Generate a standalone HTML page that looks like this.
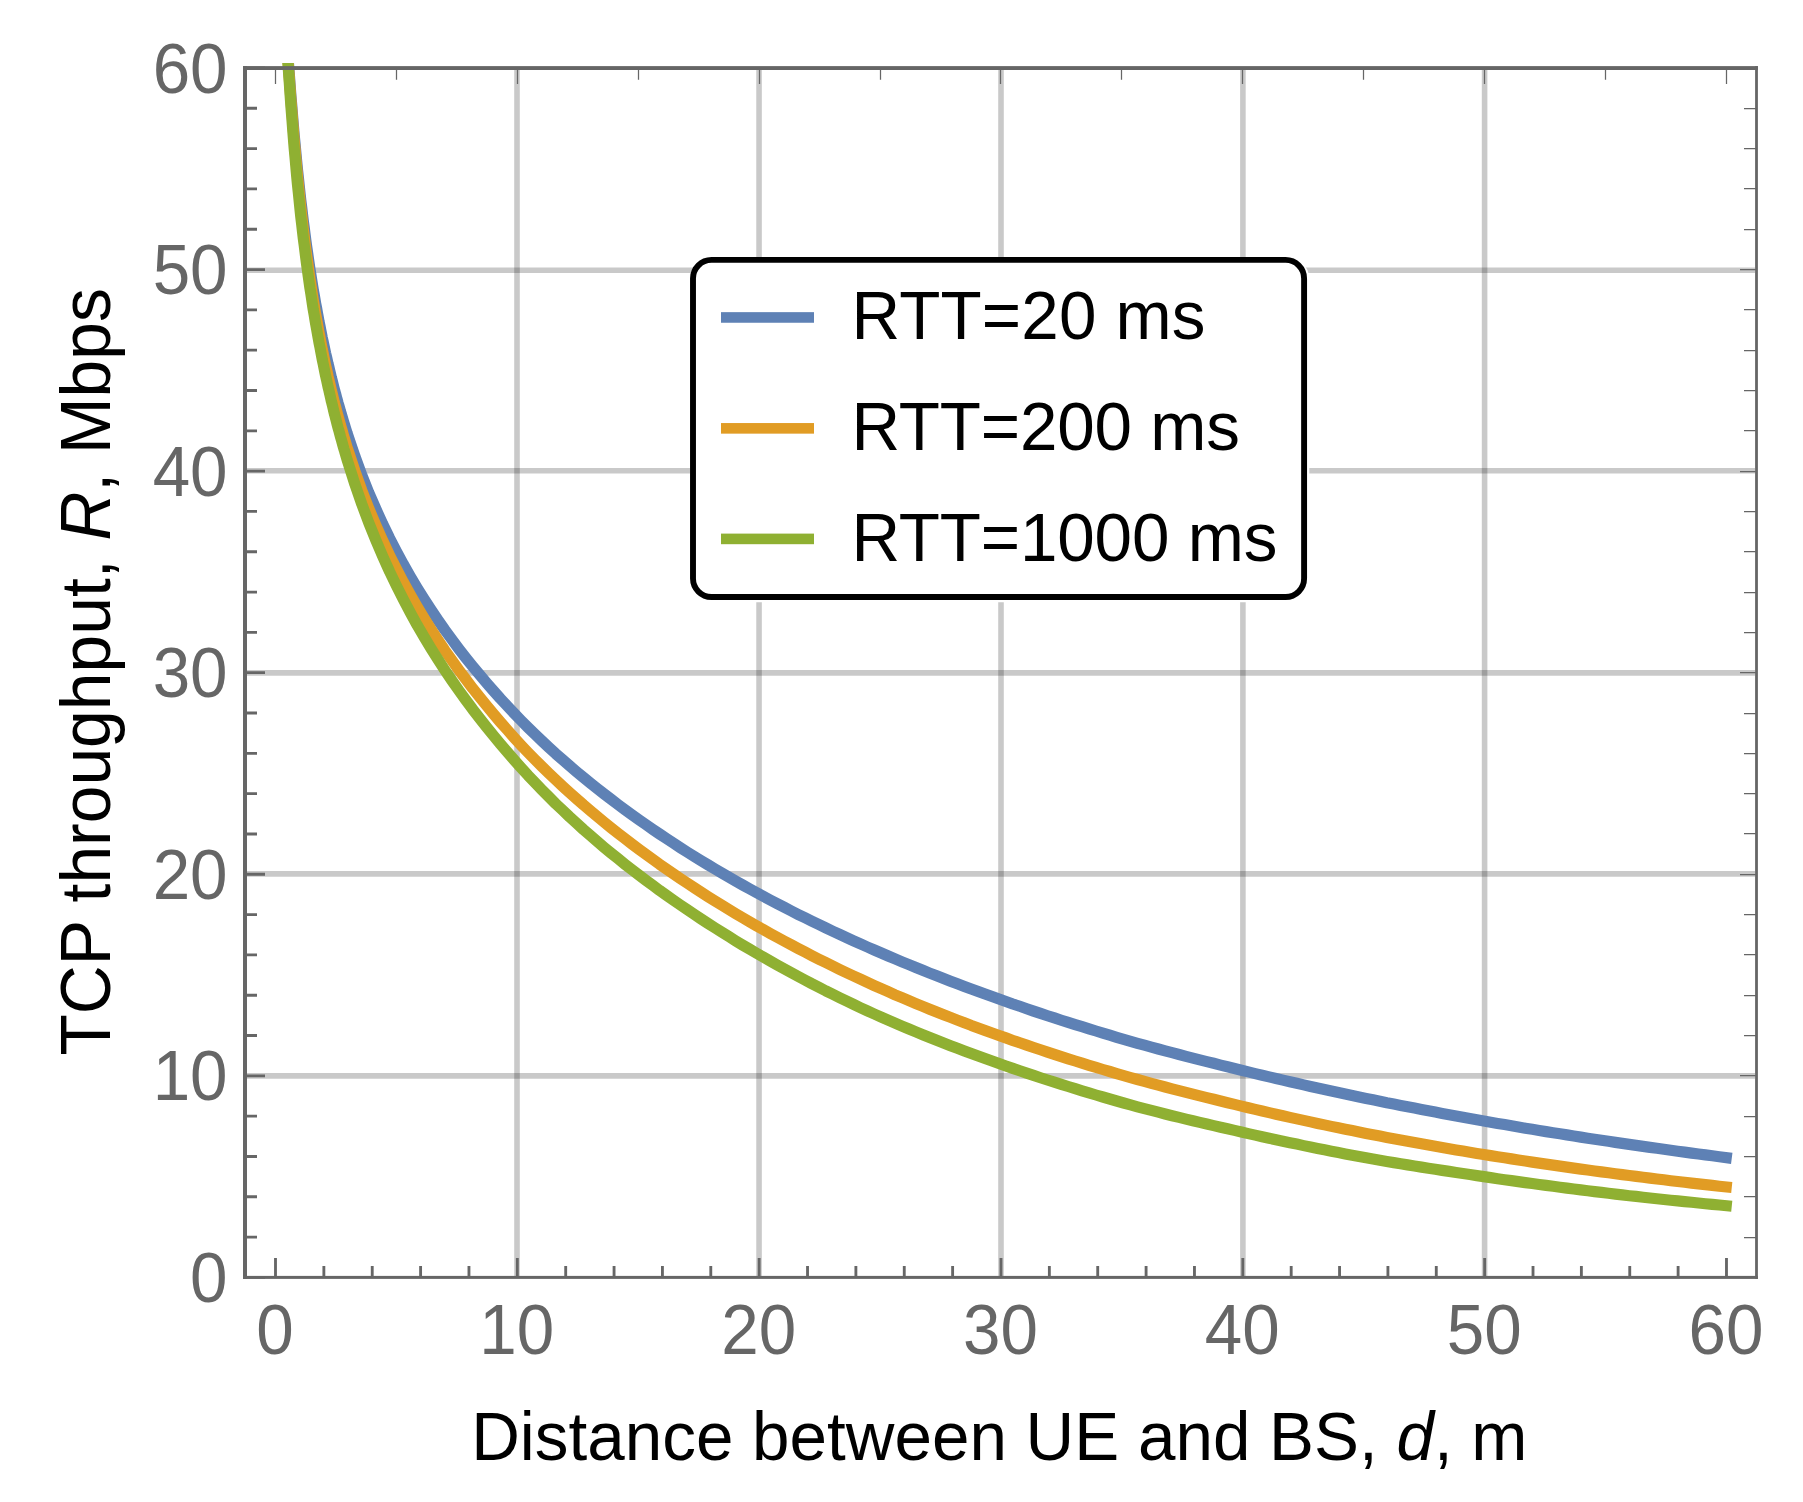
<!DOCTYPE html>
<html lang="en"><head><meta charset="utf-8"><title>TCP throughput vs distance</title>
<style>
html,body{margin:0;padding:0;background:#fff;}
body{width:1803px;height:1502px;overflow:hidden;}
svg{display:block;}
text{font-family:"Liberation Sans",Arial,Helvetica,sans-serif;font-size:67.4px;}
.tl{fill:#666666;}
.al{fill:#000;}
.lg{fill:#000;}
.it{font-style:italic;}
</style></head><body>
<svg width="1803" height="1502" viewBox="0 0 1803 1502">
<rect x="0" y="0" width="1803" height="1502" fill="#ffffff"/>
<defs><clipPath id="pc"><rect x="243.0" y="63" width="1514.9" height="1215.9"/></clipPath></defs>
<g stroke="#000" stroke-opacity="0.21" stroke-width="5.6" fill="none">
<line x1="517.0" y1="70.0" x2="517.0" y2="1275.9"/>
<line x1="759.05" y1="70.0" x2="759.05" y2="1275.9"/>
<line x1="1001.0" y1="70.0" x2="1001.0" y2="1275.9"/>
<line x1="1242.9" y1="70.0" x2="1242.9" y2="1275.9"/>
<line x1="1484.6" y1="70.0" x2="1484.6" y2="1275.9"/>
<line x1="247.0" y1="270.2" x2="1755.1" y2="270.2"/>
<line x1="247.0" y1="470.8" x2="1755.1" y2="470.8"/>
<line x1="247.0" y1="672.9" x2="1755.1" y2="672.9"/>
<line x1="247.0" y1="873.85" x2="1755.1" y2="873.85"/>
<line x1="247.0" y1="1075.9" x2="1755.1" y2="1075.9"/>
</g>
<g fill="none" stroke-width="11.2" stroke-linejoin="round" stroke-linecap="square" clip-path="url(#pc)">
<polyline stroke="#5E81B5" points="282.7,-15.4 283.5,-6.3 284.3,4.4 285.1,15.8 286.0,27.6 286.8,39.4 287.6,51.2 288.4,62.8 289.3,74.0 290.1,85.0 290.9,95.7 291.8,106.1 292.6,116.1 293.4,125.8 294.2,135.2 295.1,144.2 295.9,153.0 296.7,161.6 297.5,169.8 298.4,177.8 299.2,185.6 300.0,193.1 300.8,200.4 301.7,207.5 302.5,214.4 303.3,221.0 304.2,227.6 305.0,233.9 305.8,240.1 306.6,246.1 307.5,252.0 308.3,257.7 309.1,263.3 309.9,268.7 310.8,274.1 311.6,279.3 312.4,284.4 313.2,289.3 314.1,294.2 314.9,299.0 315.7,303.6 316.6,308.2 317.4,312.7 318.2,317.1 319.0,321.4 319.9,325.6 320.7,329.8 321.5,333.9 322.3,337.9 323.2,341.8 324.0,345.7 324.8,349.5 325.6,353.2 326.5,356.9 327.3,360.5 328.1,364.0 329.0,367.5 329.8,371.0 330.6,374.4 331.4,377.7 332.3,381.0 333.1,384.3 333.9,387.5 334.7,390.6 335.6,393.7 336.4,396.8 337.2,399.8 338.0,402.8 338.9,405.7 339.7,408.6 340.5,411.5 341.4,414.3 342.2,417.1 343.0,419.9 343.8,422.6 344.7,425.3 345.5,428.0 346.3,430.6 347.1,433.2 348.0,435.8 354.9,456.3 361.8,475.1 368.7,492.5 375.7,508.6 382.6,523.8 389.5,538.0 396.5,551.5 403.4,564.3 410.3,576.4 417.2,588.0 424.2,599.2 431.1,609.8 438.0,620.1 444.9,630.0 451.9,639.5 458.8,648.8 465.7,657.7 472.6,666.3 479.6,674.7 486.5,682.8 493.4,690.7 500.3,698.5 507.3,706.0 514.2,713.3 521.1,720.5 528.0,727.5 535.0,734.3 541.9,740.9 548.8,747.4 555.7,753.7 562.7,759.8 569.6,765.8 576.5,771.7 583.4,777.4 590.4,783.1 597.3,788.6 604.2,794.0 611.1,799.3 618.1,804.6 625.0,809.7 631.9,814.7 638.9,819.7 645.8,824.5 652.7,829.3 659.6,834.0 666.6,838.6 673.5,843.2 680.4,847.7 687.3,852.1 694.3,856.4 701.2,860.7 708.1,864.9 715.0,869.0 722.0,873.1 728.9,877.1 735.8,881.1 742.7,885.0 749.7,888.8 756.6,892.6 763.5,896.4 770.4,900.1 777.4,903.7 784.3,907.3 791.2,910.9 798.1,914.4 805.1,917.8 812.0,921.2 818.9,924.6 825.8,927.9 832.8,931.2 839.7,934.4 846.6,937.6 853.6,940.8 860.5,943.9 867.4,947.0 874.3,950.0 881.3,953.0 888.2,956.0 895.1,958.9 902.0,961.8 909.0,964.7 915.9,967.5 922.8,970.3 929.7,973.1 936.7,975.8 943.6,978.5 950.5,981.2 957.4,983.8 964.4,986.5 971.3,989.0 978.2,991.6 985.1,994.1 992.1,996.6 999.0,999.1 1005.9,1001.5 1012.8,1004.0 1019.8,1006.3 1026.7,1008.7 1033.6,1011.1 1040.5,1013.4 1047.5,1015.7 1054.4,1017.9 1061.3,1020.2 1068.2,1022.4 1075.2,1024.6 1082.1,1026.7 1089.0,1028.9 1096.0,1031.0 1102.9,1033.1 1109.8,1035.2 1116.7,1037.3 1123.7,1039.3 1130.6,1041.3 1137.5,1043.3 1144.4,1045.2 1151.4,1047.1 1158.3,1049.0 1165.2,1050.9 1172.1,1052.7 1179.1,1054.5 1186.0,1056.3 1192.9,1058.1 1199.8,1059.9 1206.8,1061.6 1213.7,1063.3 1220.6,1065.1 1227.5,1066.8 1234.5,1068.5 1241.4,1070.2 1248.3,1071.9 1255.2,1073.6 1262.2,1075.2 1269.1,1076.9 1276.0,1078.5 1282.9,1080.1 1289.9,1081.7 1296.8,1083.3 1303.7,1084.9 1310.6,1086.5 1317.6,1088.0 1324.5,1089.5 1331.4,1091.0 1338.4,1092.5 1345.3,1094.0 1352.2,1095.5 1359.1,1097.0 1366.1,1098.4 1373.0,1099.8 1379.9,1101.2 1386.8,1102.7 1393.8,1104.0 1400.7,1105.4 1407.6,1106.8 1414.5,1108.1 1421.5,1109.5 1428.4,1110.8 1435.3,1112.1 1442.2,1113.4 1449.2,1114.7 1456.1,1116.0 1463.0,1117.3 1469.9,1118.5 1476.9,1119.8 1483.8,1121.0 1490.7,1122.2 1497.6,1123.4 1504.6,1124.6 1511.5,1125.8 1518.4,1127.0 1525.3,1128.2 1532.3,1129.3 1539.2,1130.5 1546.1,1131.6 1553.1,1132.7 1560.0,1133.8 1566.9,1134.9 1573.8,1136.0 1580.8,1137.1 1587.7,1138.2 1594.6,1139.2 1601.5,1140.3 1608.5,1141.3 1615.4,1142.4 1622.3,1143.4 1629.2,1144.4 1636.2,1145.4 1643.1,1146.4 1650.0,1147.4 1656.9,1148.3 1663.9,1149.3 1670.8,1150.3 1677.7,1151.2 1684.6,1152.1 1691.6,1153.1 1698.5,1154.0 1705.4,1154.9 1712.3,1155.8 1719.3,1156.7 1726.2,1157.6"/>
<polyline stroke="#E19C24" points="282.7,-9.0 283.5,-1.3 284.3,8.4 285.1,19.4 286.0,30.9 286.8,42.7 287.6,54.5 288.4,66.2 289.3,77.7 290.1,88.9 290.9,99.8 291.8,110.5 292.6,120.8 293.4,130.8 294.2,140.5 295.1,149.8 295.9,158.9 296.7,167.7 297.5,176.2 298.4,184.5 299.2,192.5 300.0,200.3 300.8,207.8 301.7,215.2 302.5,222.3 303.3,229.2 304.2,235.9 305.0,242.5 305.8,248.9 306.6,255.1 307.5,261.1 308.3,267.0 309.1,272.8 309.9,278.4 310.8,283.9 311.6,289.3 312.4,294.5 313.2,299.6 314.1,304.7 314.9,309.6 315.7,314.4 316.6,319.1 317.4,323.7 318.2,328.2 319.0,332.7 319.9,337.0 320.7,341.3 321.5,345.5 322.3,349.6 323.2,353.6 324.0,357.6 324.8,361.5 325.6,365.3 326.5,369.1 327.3,372.8 328.1,376.5 329.0,380.1 329.8,383.6 330.6,387.1 331.4,390.5 332.3,393.9 333.1,397.2 333.9,400.5 334.7,403.7 335.6,406.9 336.4,410.1 337.2,413.2 338.0,416.2 338.9,419.2 339.7,422.2 340.5,425.2 341.4,428.1 342.2,430.9 343.0,433.8 343.8,436.6 344.7,439.3 345.5,442.1 346.3,444.8 347.1,447.5 348.0,450.1 354.9,471.1 361.8,490.4 368.7,508.3 375.7,524.9 382.6,540.5 389.5,555.2 396.5,569.1 403.4,582.3 410.3,594.8 417.2,606.8 424.2,618.4 431.1,629.4 438.0,640.1 444.9,650.4 451.9,660.3 458.8,669.9 465.7,679.2 472.6,688.3 479.6,697.0 486.5,705.5 493.4,713.9 500.3,722.0 507.3,729.9 514.2,737.7 521.1,745.2 528.0,752.5 535.0,759.6 541.9,766.5 548.8,773.2 555.7,779.8 562.7,786.3 569.6,792.6 576.5,798.7 583.4,804.8 590.4,810.7 597.3,816.5 604.2,822.2 611.1,827.8 618.1,833.3 625.0,838.7 631.9,844.0 638.9,849.2 645.8,854.3 652.7,859.3 659.6,864.3 666.6,869.1 673.5,873.9 680.4,878.6 687.3,883.2 694.3,887.8 701.2,892.3 708.1,896.7 715.0,901.0 722.0,905.3 728.9,909.5 735.8,913.7 742.7,917.8 749.7,921.8 756.6,925.8 763.5,929.7 770.4,933.6 777.4,937.4 784.3,941.1 791.2,944.8 798.1,948.5 805.1,952.1 812.0,955.7 818.9,959.2 825.8,962.6 832.8,966.0 839.7,969.4 846.6,972.7 853.6,976.0 860.5,979.2 867.4,982.4 874.3,985.6 881.3,988.7 888.2,991.7 895.1,994.8 902.0,997.7 909.0,1000.7 915.9,1003.6 922.8,1006.4 929.7,1009.2 936.7,1012.0 943.6,1014.7 950.5,1017.4 957.4,1020.1 964.4,1022.7 971.3,1025.4 978.2,1027.9 985.1,1030.5 992.1,1033.0 999.0,1035.5 1005.9,1037.9 1012.8,1040.4 1019.8,1042.8 1026.7,1045.1 1033.6,1047.5 1040.5,1049.8 1047.5,1052.1 1054.4,1054.4 1061.3,1056.6 1068.2,1058.8 1075.2,1061.0 1082.1,1063.2 1089.0,1065.3 1096.0,1067.4 1102.9,1069.5 1109.8,1071.5 1116.7,1073.6 1123.7,1075.6 1130.6,1077.6 1137.5,1079.5 1144.4,1081.4 1151.4,1083.3 1158.3,1085.2 1165.2,1087.0 1172.1,1088.8 1179.1,1090.6 1186.0,1092.4 1192.9,1094.2 1199.8,1095.9 1206.8,1097.6 1213.7,1099.3 1220.6,1101.0 1227.5,1102.7 1234.5,1104.4 1241.4,1106.1 1248.3,1107.8 1255.2,1109.4 1262.2,1111.0 1269.1,1112.6 1276.0,1114.2 1282.9,1115.8 1289.9,1117.4 1296.8,1118.9 1303.7,1120.4 1310.6,1121.9 1317.6,1123.4 1324.5,1124.9 1331.4,1126.4 1338.4,1127.8 1345.3,1129.2 1352.2,1130.6 1359.1,1132.0 1366.1,1133.4 1373.0,1134.7 1379.9,1136.1 1386.8,1137.4 1393.8,1138.7 1400.7,1140.0 1407.6,1141.3 1414.5,1142.6 1421.5,1143.8 1428.4,1145.1 1435.3,1146.3 1442.2,1147.5 1449.2,1148.7 1456.1,1149.9 1463.0,1151.1 1469.9,1152.2 1476.9,1153.4 1483.8,1154.5 1490.7,1155.6 1497.6,1156.7 1504.6,1157.8 1511.5,1158.9 1518.4,1160.0 1525.3,1161.0 1532.3,1162.1 1539.2,1163.1 1546.1,1164.1 1553.1,1165.1 1560.0,1166.1 1566.9,1167.1 1573.8,1168.1 1580.8,1169.1 1587.7,1170.0 1594.6,1171.0 1601.5,1171.9 1608.5,1172.8 1615.4,1173.7 1622.3,1174.6 1629.2,1175.5 1636.2,1176.4 1643.1,1177.3 1650.0,1178.1 1656.9,1179.0 1663.9,1179.8 1670.8,1180.7 1677.7,1181.5 1684.6,1182.3 1691.6,1183.1 1698.5,1183.9 1705.4,1184.6 1712.3,1185.4 1719.3,1186.2 1726.2,1186.9"/>
<polyline stroke="#8FB032" points="282.7,-24.9 283.5,-11.6 284.3,2.3 285.1,16.3 286.0,30.3 286.8,44.0 287.6,57.3 288.4,70.2 289.3,82.6 290.1,94.6 290.9,106.2 291.8,117.3 292.6,128.0 293.4,138.4 294.2,148.3 295.1,157.9 295.9,167.2 296.7,176.2 297.5,184.8 298.4,193.2 299.2,201.3 300.0,209.2 300.8,216.8 301.7,224.2 302.5,231.3 303.3,238.3 304.2,245.1 305.0,251.7 305.8,258.1 306.6,264.4 307.5,270.5 308.3,276.4 309.1,282.2 309.9,287.9 310.8,293.4 311.6,298.8 312.4,304.1 313.2,309.3 314.1,314.3 314.9,319.3 315.7,324.1 316.6,328.9 317.4,333.6 318.2,338.1 319.0,342.6 319.9,347.0 320.7,351.3 321.5,355.6 322.3,359.8 323.2,363.9 324.0,367.9 324.8,371.9 325.6,375.8 326.5,379.6 327.3,383.4 328.1,387.1 329.0,390.7 329.8,394.3 330.6,397.9 331.4,401.4 332.3,404.8 333.1,408.2 333.9,411.6 334.7,414.9 335.6,418.2 336.4,421.4 337.2,424.6 338.0,427.7 338.9,430.8 339.7,433.8 340.5,436.9 341.4,439.8 342.2,442.8 343.0,445.7 343.8,448.6 344.7,451.4 345.5,454.2 346.3,457.0 347.1,459.8 348.0,462.5 354.9,484.2 361.8,504.1 368.7,522.6 375.7,539.9 382.6,556.1 389.5,571.4 396.5,585.9 403.4,599.6 410.3,612.7 417.2,625.2 424.2,637.1 431.1,648.6 438.0,659.6 444.9,670.2 451.9,680.5 458.8,690.4 465.7,699.9 472.6,709.2 479.6,718.2 486.5,727.0 493.4,735.6 500.3,743.9 507.3,752.0 514.2,760.0 521.1,767.7 528.0,775.3 535.0,782.6 541.9,789.8 548.8,796.8 555.7,803.7 562.7,810.3 569.6,816.9 576.5,823.2 583.4,829.5 590.4,835.5 597.3,841.5 604.2,847.4 611.1,853.1 618.1,858.7 625.0,864.3 631.9,869.7 638.9,875.0 645.8,880.2 652.7,885.3 659.6,890.4 666.6,895.3 673.5,900.2 680.4,905.0 687.3,909.7 694.3,914.4 701.2,919.0 708.1,923.5 715.0,927.9 722.0,932.3 728.9,936.6 735.8,940.9 742.7,945.1 749.7,949.2 756.6,953.3 763.5,957.2 770.4,961.2 777.4,965.1 784.3,968.9 791.2,972.7 798.1,976.4 805.1,980.1 812.0,983.8 818.9,987.3 825.8,990.9 832.8,994.3 839.7,997.7 846.6,1001.1 853.6,1004.4 860.5,1007.7 867.4,1010.9 874.3,1014.0 881.3,1017.1 888.2,1020.1 895.1,1023.1 902.0,1026.1 909.0,1029.0 915.9,1031.9 922.8,1034.7 929.7,1037.5 936.7,1040.3 943.6,1043.0 950.5,1045.7 957.4,1048.3 964.4,1051.0 971.3,1053.6 978.2,1056.1 985.1,1058.6 992.1,1061.1 999.0,1063.6 1005.9,1066.0 1012.8,1068.4 1019.8,1070.8 1026.7,1073.1 1033.6,1075.4 1040.5,1077.7 1047.5,1080.0 1054.4,1082.2 1061.3,1084.4 1068.2,1086.5 1075.2,1088.7 1082.1,1090.8 1089.0,1092.9 1096.0,1095.0 1102.9,1097.0 1109.8,1099.0 1116.7,1101.0 1123.7,1103.0 1130.6,1104.9 1137.5,1106.8 1144.4,1108.6 1151.4,1110.4 1158.3,1112.2 1165.2,1114.0 1172.1,1115.7 1179.1,1117.4 1186.0,1119.1 1192.9,1120.7 1199.8,1122.4 1206.8,1124.0 1213.7,1125.6 1220.6,1127.2 1227.5,1128.8 1234.5,1130.4 1241.4,1132.0 1248.3,1133.6 1255.2,1135.1 1262.2,1136.7 1269.1,1138.2 1276.0,1139.7 1282.9,1141.2 1289.9,1142.7 1296.8,1144.1 1303.7,1145.6 1310.6,1147.0 1317.6,1148.4 1324.5,1149.8 1331.4,1151.2 1338.4,1152.5 1345.3,1153.9 1352.2,1155.2 1359.1,1156.5 1366.1,1157.8 1373.0,1159.0 1379.9,1160.3 1386.8,1161.5 1393.8,1162.6 1400.7,1163.8 1407.6,1164.9 1414.5,1166.0 1421.5,1167.1 1428.4,1168.2 1435.3,1169.3 1442.2,1170.4 1449.2,1171.4 1456.1,1172.5 1463.0,1173.5 1469.9,1174.5 1476.9,1175.6 1483.8,1176.6 1490.7,1177.6 1497.6,1178.7 1504.6,1179.7 1511.5,1180.6 1518.4,1181.6 1525.3,1182.6 1532.3,1183.5 1539.2,1184.5 1546.1,1185.4 1553.1,1186.3 1560.0,1187.2 1566.9,1188.1 1573.8,1189.0 1580.8,1189.9 1587.7,1190.7 1594.6,1191.6 1601.5,1192.4 1608.5,1193.3 1615.4,1194.1 1622.3,1194.9 1629.2,1195.7 1636.2,1196.4 1643.1,1197.2 1650.0,1198.0 1656.9,1198.7 1663.9,1199.5 1670.8,1200.2 1677.7,1200.9 1684.6,1201.6 1691.6,1202.3 1698.5,1203.0 1705.4,1203.7 1712.3,1204.4 1719.3,1205.0 1726.2,1205.7"/>
</g>
<g stroke="#666666" fill="none">
<path stroke-width="2.85" d="M275.50 1277.4V1258.0M323.87 1277.4V1266.0M372.23 1277.4V1266.0M420.60 1277.4V1266.0M468.96 1277.4V1266.0M517.33 1277.4V1258.0M565.70 1277.4V1266.0M614.06 1277.4V1266.0M662.43 1277.4V1266.0M710.79 1277.4V1266.0M759.16 1277.4V1258.0M807.53 1277.4V1266.0M855.89 1277.4V1266.0M904.26 1277.4V1266.0M952.62 1277.4V1266.0M1000.99 1277.4V1258.0M1049.36 1277.4V1266.0M1097.72 1277.4V1266.0M1146.09 1277.4V1266.0M1194.45 1277.4V1266.0M1242.82 1277.4V1258.0M1291.19 1277.4V1266.0M1339.55 1277.4V1266.0M1387.92 1277.4V1266.0M1436.28 1277.4V1266.0M1484.65 1277.4V1258.0M1533.02 1277.4V1266.0M1581.38 1277.4V1266.0M1629.75 1277.4V1266.0M1678.11 1277.4V1266.0M1726.48 1277.4V1258.0M245.0 1277.40H265.0M245.0 1237.09H257.0M245.0 1196.77H257.0M245.0 1156.46H257.0M245.0 1116.14H257.0M245.0 1075.83H265.0M245.0 1035.52H257.0M245.0 995.20H257.0M245.0 954.89H257.0M245.0 914.57H257.0M245.0 874.26H265.0M245.0 833.95H257.0M245.0 793.63H257.0M245.0 753.32H257.0M245.0 713.00H257.0M245.0 672.69H265.0M245.0 632.38H257.0M245.0 592.06H257.0M245.0 551.75H257.0M245.0 511.43H257.0M245.0 471.12H265.0M245.0 430.81H257.0M245.0 390.49H257.0M245.0 350.18H257.0M245.0 309.86H257.0M245.0 269.55H265.0M245.0 229.24H257.0M245.0 188.92H257.0M245.0 148.61H257.0M245.0 108.29H257.0M245.0 67.98H265.0"/>
<path stroke-width="1.25" d="M275.5 68.0V83.9M396.5 68.0V79.8M517.5 68.0V83.9M638.5 68.0V79.8M759.5 68.0V83.9M880.5 68.0V79.8M1000.5 68.0V83.9M1121.5 68.0V79.8M1242.5 68.0V83.9M1363.5 68.0V79.8M1484.5 68.0V83.9M1605.5 68.0V79.8M1726.5 68.0V83.9M1756.5 1277.5H1740.0M1756.5 1237.5H1744.0M1756.5 1196.5H1744.0M1756.5 1156.5H1744.0M1756.5 1116.5H1744.0M1756.5 1075.5H1740.0M1756.5 1035.5H1744.0M1756.5 995.5H1744.0M1756.5 954.5H1744.0M1756.5 914.5H1744.0M1756.5 874.5H1740.0M1756.5 833.5H1744.0M1756.5 793.5H1744.0M1756.5 753.5H1744.0M1756.5 713.5H1744.0M1756.5 672.5H1740.0M1756.5 632.5H1744.0M1756.5 592.5H1744.0M1756.5 551.5H1744.0M1756.5 511.5H1744.0M1756.5 471.5H1740.0M1756.5 430.5H1744.0M1756.5 390.5H1744.0M1756.5 350.5H1744.0M1756.5 309.5H1744.0M1756.5 269.5H1740.0M1756.5 229.5H1744.0M1756.5 188.5H1744.0M1756.5 148.5H1744.0M1756.5 108.5H1744.0M1756.5 67.5H1740.0"/>
</g>
<g fill="#666666">
<rect x="243.0" y="66.1" width="4.00" height="1212.80"/>
<rect x="1755.1" y="66.1" width="2.80" height="1212.80"/>
<rect x="243.0" y="66.1" width="1514.90" height="3.90"/>
<rect x="243.0" y="1275.9" width="1514.90" height="3.00"/>
</g>
<g class="tl" text-anchor="middle">
<text transform="translate(275.0,1353.6) scale(1,1.035)">0</text>
<text transform="translate(516.8,1353.6) scale(1,1.035)">10</text>
<text transform="translate(758.7,1353.6) scale(1,1.035)">20</text>
<text transform="translate(1000.5,1353.6) scale(1,1.035)">30</text>
<text transform="translate(1242.3,1353.6) scale(1,1.035)">40</text>
<text transform="translate(1484.2,1353.6) scale(1,1.035)">50</text>
<text transform="translate(1726.0,1353.6) scale(1,1.035)">60</text>
</g>
<g class="tl" text-anchor="end">
<text transform="translate(227.6,1302.0) scale(1,1.035)">0</text>
<text transform="translate(227.6,1100.4) scale(1,1.035)">10</text>
<text transform="translate(227.6,898.9) scale(1,1.035)">20</text>
<text transform="translate(227.6,697.3) scale(1,1.035)">30</text>
<text transform="translate(227.6,495.7) scale(1,1.035)">40</text>
<text transform="translate(227.6,294.2) scale(1,1.035)">50</text>
<text transform="translate(227.6,92.6) scale(1,1.035)">60</text>
</g>
<text class="al" transform="translate(471.2,1459.6) scale(1,1.025)">Distance between UE and BS, <tspan class="it">d</tspan>, m</text>
<text class="al" style="font-size:67.8px" transform="translate(109.9,1055.6) rotate(-90) scale(1,1.03)">TCP throughput, <tspan class="it">R</tspan>, Mbps</text>
<rect x="690" y="257" width="619.3" height="345.2" rx="22" ry="22" fill="#fff"/>
<rect x="693" y="259.9" width="611.1" height="337.1" rx="18.5" ry="18.5" fill="#fff" stroke="#000" stroke-width="5.9"/>
<rect x="721.0" y="312.15" width="93.0" height="10.6" fill="#5E81B5"/>
<text class="lg" style="letter-spacing:0.15px" transform="translate(851.6,338.7) scale(1,1.025)">RTT=20 ms</text>
<rect x="721.0" y="423.05" width="93.0" height="10.6" fill="#E19C24"/>
<text class="lg" style="letter-spacing:-0.2px" transform="translate(851.6,449.9) scale(1,1.025)">RTT=200 ms</text>
<rect x="721.0" y="533.60" width="93.0" height="10.6" fill="#8FB032"/>
<text class="lg" style="letter-spacing:-0.18px" transform="translate(851.6,560.9) scale(1,1.025)">RTT=1000 ms</text>
</svg></body></html>
